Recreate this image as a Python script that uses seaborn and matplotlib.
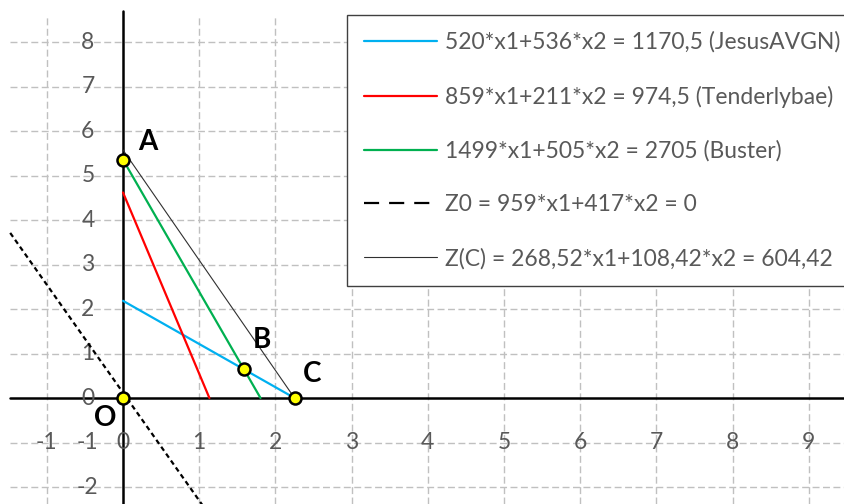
import matplotlib
matplotlib.use("Agg")
import matplotlib.pyplot as plt
import seaborn as sns
from matplotlib.lines import Line2D

sns.set_theme(style="white")
plt.rcParams['font.family'] = ['Lato', 'DejaVu Sans']

# ---- data ----
legend_labels = [
    "520*x1+536*x2 = 1170,5 (JesusAVGN)",
    "859*x1+211*x2 = 974,5 (Tenderlybae)",
    "1499*x1+505*x2 = 2705 (Buster)",
    "Z0 = 959*x1+417*x2 = 0",
    "Z(C) = 268,52*x1+108,42*x2 = 604,42",
]
blue_x = [0.0, 2.251]
blue_y = [2.184, 0.0]
red_x = [0.0, 1.134]
red_y = [4.619, 0.0]
green_x = [0.0, 1.8045]
green_y = [5.356, 0.0]
z0_x = [-1.48, 1.06]
z0_y = [3.71, -2.45]
zc_x = [0.0, 2.251]
zc_y = [5.575, 0.0]
point_names = ["A", "B", "C", "O"]
point_x = [0.0, 1.588, 2.251, 0.0]
point_y = [5.356, 0.643, 0.0, 0.0]
x_ticks = [-1, 0, 1, 2, 3, 4, 5, 6, 7, 8, 9]
y_ticks = [-2, -1, 0, 1, 2, 3, 4, 5, 6, 7, 8]

# ---- style ----
C_BLUE = "#00B0F0"
C_RED = "#FF0000"
C_GREEN = "#00B050"
C_TXT = "#595959"
C_GRID = "#C0C0C0"

fig = plt.figure(figsize=(8.44, 5.04), dpi=100)
ax = fig.add_axes([0, 0, 1, 1])
XL, XR = -1.614, 9.462
YB, YT = -2.382, 8.944
ax.set_xlim(XL, XR)
ax.set_ylim(YB, YT)
ax.axis("off")

grid_left, grid_top = -1.48, 8.61
ax.hlines([v for v in y_ticks if v != 0], grid_left, XR, colors=C_GRID,
          linewidth=1.0, linestyles=(0, (5, 2.5)), zorder=1)
ax.vlines([v for v in x_ticks if v != 0], YB, grid_top, colors=C_GRID,
          linewidth=1.0, linestyles=(0, (5, 2.5)), zorder=1)

# axes through the origin
ax.plot([0, 0], [YB, 8.70], color="black", lw=1.8, zorder=2)
ax.plot([grid_left, XR], [0, 0], color="black", lw=1.8, zorder=2)

# tick labels
for v in y_ticks:
    ax.text(-0.46, v, str(v), ha="center", va="center", color=C_TXT,
            fontsize=16.5, zorder=3)
for v in x_ticks:
    ax.text(v, -1, str(v), ha="center", va="center", color=C_TXT,
            fontsize=16.5, zorder=3)

# lines
sns.lineplot(x=blue_x, y=blue_y, ax=ax, color=C_BLUE, lw=1.6, sort=False, estimator=None, zorder=4)
sns.lineplot(x=red_x, y=red_y, ax=ax, color=C_RED, lw=1.6, sort=False, estimator=None, zorder=4)
sns.lineplot(x=green_x, y=green_y, ax=ax, color=C_GREEN, lw=1.6, sort=False, estimator=None, zorder=4)
sns.lineplot(x=z0_x, y=z0_y, ax=ax, color="black", lw=1.6, sort=False, estimator=None, zorder=4)
ax.lines[-1].set_dashes((2.2, 1.6))
sns.lineplot(x=zc_x, y=zc_y, ax=ax, color="#303030", lw=0.8, sort=False, estimator=None, zorder=4)

# points
sns.scatterplot(x=point_x, y=point_y, ax=ax, s=75, color="#FFFF00",
                edgecolor="black", linewidth=1.8, zorder=6, legend=False)

label_pos = {"A": (0.33, 5.76), "B": (1.82, 1.30), "C": (2.48, 0.54), "O": (-0.24, -0.45)}
for n in point_names:
    lx, ly = label_pos[n]
    ax.text(lx, ly, n, ha="center", va="center", fontsize=20, fontweight="bold",
            color="black", zorder=7)

handles = [
    Line2D([], [], color=C_BLUE, lw=1.6),
    Line2D([], [], color=C_RED, lw=1.6),
    Line2D([], [], color=C_GREEN, lw=1.6),
    Line2D([], [], color="black", lw=1.6, dashes=(6.8, 4.5)),
    Line2D([], [], color="#303030", lw=0.8),
]
leg = ax.legend(handles, legend_labels, loc="upper left",
                bbox_to_anchor=(347 / 844, 1 - 15 / 504), bbox_transform=fig.transFigure,
                borderaxespad=0, fontsize=16.5, handlelength=3.2, handletextpad=0.36,
                labelspacing=1.42, borderpad=0.72, frameon=True, fancybox=False,
                edgecolor="#404040", framealpha=1, labelcolor=C_TXT)
leg.get_frame().set_linewidth(1.0)
leg.set_zorder(10)

fig.savefig("out.png", dpi=100)
